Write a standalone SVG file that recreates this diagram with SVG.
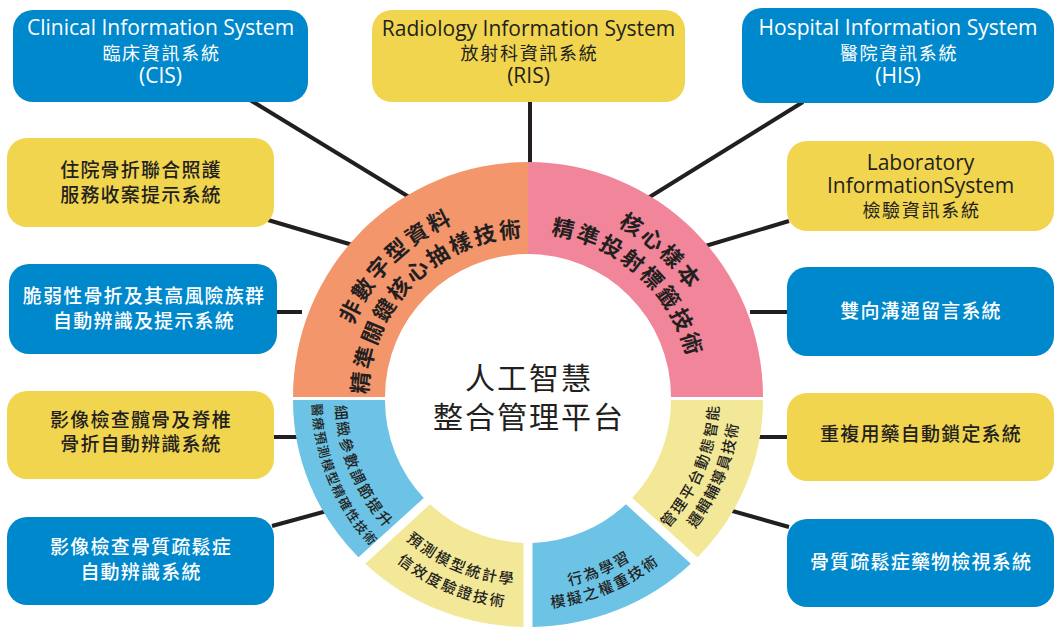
<svg xmlns="http://www.w3.org/2000/svg" width="1062" height="633" viewBox="0 0 1062 633">
<style>
.bb{fill:#0088cc}
.by{fill:#f2d54e}
.en{font-family:"Open Sans","Liberation Sans",sans-serif;font-size:21px;text-anchor:middle}
.cj{font-family:"Noto Sans CJK TC","Noto Sans CJK SC",sans-serif;text-anchor:middle}
.c1{font-size:18px;letter-spacing:1.7px}
.c2{font-size:19px;letter-spacing:1.2px;font-weight:500}
.w{fill:#ffffff}
.d{fill:#231f20}
.conn{stroke:#231f20;stroke-width:4;fill:none}
.rt{font-family:"Noto Sans CJK TC","Noto Sans CJK SC",sans-serif;fill:#231f20;dominant-baseline:central;text-anchor:middle}
.up{font-size:22px;letter-spacing:4px;font-weight:600}
.lo{font-size:15px;letter-spacing:1.5px;font-weight:500}
</style>
<defs>
<path id="po1" d="M 347.6 481.1 A 199 199 0 0 1 612.1 216.6"/>
<path id="po2" d="M 373.9 468.8 A 170 170 0 0 1 599.8 242.9"/>
<path id="pp1" d="M 434.3 216.9 A 203 203 0 0 1 715.6 474.7"/>
<path id="pp2" d="M 447.7 242.7 A 174 174 0 0 1 688.8 463.6"/>
<path id="pa1" d="M 380.4 284.8 A 186 186 0 0 0 503.7 582.4"/>
<path id="pa2" d="M 361.4 270.2 A 210 210 0 0 0 500.6 606.2"/>
<path id="pb1" d="M 349.5 421.5 A 180 180 0 0 0 637.6 540.8"/>
<path id="pb2" d="M 326.7 424.5 A 203 203 0 0 0 651.6 559.1"/>
<path id="pc1" d="M 415.4 544.8 A 185 185 0 0 0 711.4 422.1"/>
<path id="pc2" d="M 403.8 559.9 A 204 204 0 0 0 730.2 424.6"/>
<path id="pd1" d="M 552.0 580.4 A 184 184 0 0 0 674.0 286.0"/>
<path id="pd2" d="M 554.8 601.2 A 205 205 0 0 0 690.6 273.2"/>
</defs>

<g id="connectors">
<line class="conn" x1="250" y1="100" x2="414" y2="200"/>
<line class="conn" x1="268" y1="220" x2="356" y2="246"/>
<line class="conn" x1="275" y1="312" x2="302" y2="312"/>
<line class="conn" x1="272" y1="437" x2="302" y2="437"/>
<line class="conn" x1="272" y1="526" x2="334" y2="509"/>
<line class="conn" x1="530" y1="100" x2="530" y2="166"/>
<line class="conn" x1="803" y1="102" x2="648" y2="198"/>
<line class="conn" x1="789" y1="221" x2="702" y2="247"/>
<line class="conn" x1="750" y1="312" x2="789" y2="312"/>
<line class="conn" x1="755" y1="437" x2="789" y2="437"/>
<line class="conn" x1="789" y1="527" x2="722" y2="508"/>
</g>

<g id="ring-orange">
<path d="M 293 397 A 235 235 0 0 1 528 162 L 528 254 A 143 143 0 0 0 385 397 Z" fill="#f4966c"/>
<text class="rt up"><textPath href="#po1" startOffset="50%">非數字型資料</textPath></text>
<text class="rt up"><textPath href="#po2" startOffset="50%">精準關鍵核心抽樣技術</textPath></text>
</g>
<g id="ring-pink">
<path d="M 528 162 A 235 235 0 0 1 763 397 L 671 397 A 143 143 0 0 0 528 254 Z" fill="#f18599"/>
<text class="rt up"><textPath href="#pp1" startOffset="50%">核心樣本</textPath></text>
<text class="rt up"><textPath href="#pp2" startOffset="50%">精準投射標籤技術</textPath></text>
</g>
<g id="seg-param">
<path d="M 293 400 A 235 227 0 0 0 358.5 557.3 L 423.8 497.9 A 143 143 0 0 1 385 400 Z" fill="#6cc3e6"/>
<text class="rt lo"><textPath href="#pa1" startOffset="50%">細緻參數調節提升</textPath></text>
<text class="rt lo" style="font-size:13px;letter-spacing:1px"><textPath href="#pa2" startOffset="50%">醫療預測模型精確性技術</textPath></text>
</g>
<g id="seg-stat">
<path d="M 365.2 563.7 A 235 227 0 0 0 523.5 627 L 523.5 542.9 A 143 143 0 0 1 430.1 504.2 Z" fill="#f3e898"/>
<text class="rt lo"><textPath href="#pb1" startOffset="50%">預測模型統計學</textPath></text>
<text class="rt lo"><textPath href="#pb2" startOffset="50%">信效度驗證技術</textPath></text>
</g>
<g id="seg-behav">
<path d="M 532.5 627 A 235 227 0 0 0 690.8 563.7 L 625.9 504.2 A 143 143 0 0 1 532.5 542.9 Z" fill="#6cc3e6"/>
<text class="rt lo"><textPath href="#pc1" startOffset="50%">行為學習</textPath></text>
<text class="rt lo"><textPath href="#pc2" startOffset="50%">模擬之權重技術</textPath></text>
</g>
<g id="seg-logic">
<path d="M 697.5 557.3 A 235 227 0 0 0 763 400 L 671 400 A 143 143 0 0 1 632.2 497.9 Z" fill="#f3e898"/>
<text class="rt lo"><textPath href="#pd1" startOffset="50%">管理平台動態智能</textPath></text>
<text class="rt lo" style="letter-spacing:1px"><textPath href="#pd2" startOffset="50%">邏輯輔導員技術</textPath></text>
</g>

<g id="center">
<text class="cj d" x="529" y="389" style="font-size:30px;letter-spacing:2px">人工智慧</text>
<text class="cj d" x="529" y="428" style="font-size:30px;letter-spacing:2px">整合管理平台</text>
</g>

<g id="cis">
<rect class="bb" x="13" y="10" width="295" height="92" rx="20"/>
<text class="en w" x="160.5" y="35">Clinical Information System</text>
<text class="cj c1 w" x="161.5" y="60">臨床資訊系統</text>
<text class="en w" x="160.5" y="83">(CIS)</text>
</g>
<g id="ris">
<rect class="by" x="372" y="10" width="313" height="92" rx="20"/>
<text class="en d" x="528.5" y="36">Radiology Information System</text>
<text class="cj c1 d" x="529.5" y="60">放射科資訊系統</text>
<text class="en d" x="528.5" y="83">(RIS)</text>
</g>
<g id="his">
<rect class="bb" x="742" y="8" width="312" height="95" rx="20"/>
<text class="en w" x="898" y="35">Hospital Information System</text>
<text class="cj c1 w" x="899" y="60">醫院資訊系統</text>
<text class="en w" x="898" y="83">(HIS)</text>
</g>
<g id="lis">
<rect class="by" x="787" y="141" width="267" height="90" rx="20"/>
<text class="en d" x="920.5" y="170">Laboratory</text>
<text class="en d" x="920.5" y="193">InformationSystem</text>
<text class="cj c1 d" x="921.5" y="217">檢驗資訊系統</text>
</g>
<g id="msg">
<rect class="bb" x="787" y="267" width="267" height="89" rx="20"/>
<text class="cj c2 w" x="921" y="318">雙向溝通留言系統</text>
</g>
<g id="drug-lock">
<rect class="by" x="787" y="393" width="267" height="88" rx="20"/>
<text class="cj c2 d" x="921" y="441">重複用藥自動鎖定系統</text>
</g>
<g id="drug-review">
<rect class="bb" x="787" y="519" width="267" height="88" rx="20"/>
<text class="cj c2 w" x="921" y="569">骨質疏鬆症藥物檢視系統</text>
</g>
<g id="care">
<rect class="by" x="7" y="138" width="267" height="89" rx="20"/>
<text class="cj c2 d" x="141" y="177">住院骨折聯合照護</text>
<text class="cj c2 d" x="141" y="202">服務收案提示系統</text>
</g>
<g id="frail">
<rect class="bb" x="9" y="264" width="268" height="90" rx="20"/>
<text class="cj c2 w" x="144" y="303">脆弱性骨折及其高風險族群</text>
<text class="cj c2 w" x="144" y="328">自動辨識及提示系統</text>
</g>
<g id="hip">
<rect class="by" x="7" y="391" width="267" height="88" rx="20"/>
<text class="cj c2 d" x="141" y="427">影像檢查髖骨及脊椎</text>
<text class="cj c2 d" x="141" y="451">骨折自動辨識系統</text>
</g>
<g id="bmd">
<rect class="bb" x="7" y="517" width="267" height="88" rx="20"/>
<text class="cj c2 w" x="141" y="554">影像檢查骨質疏鬆症</text>
<text class="cj c2 w" x="141" y="579">自動辨識系統</text>
</g>
</svg>
